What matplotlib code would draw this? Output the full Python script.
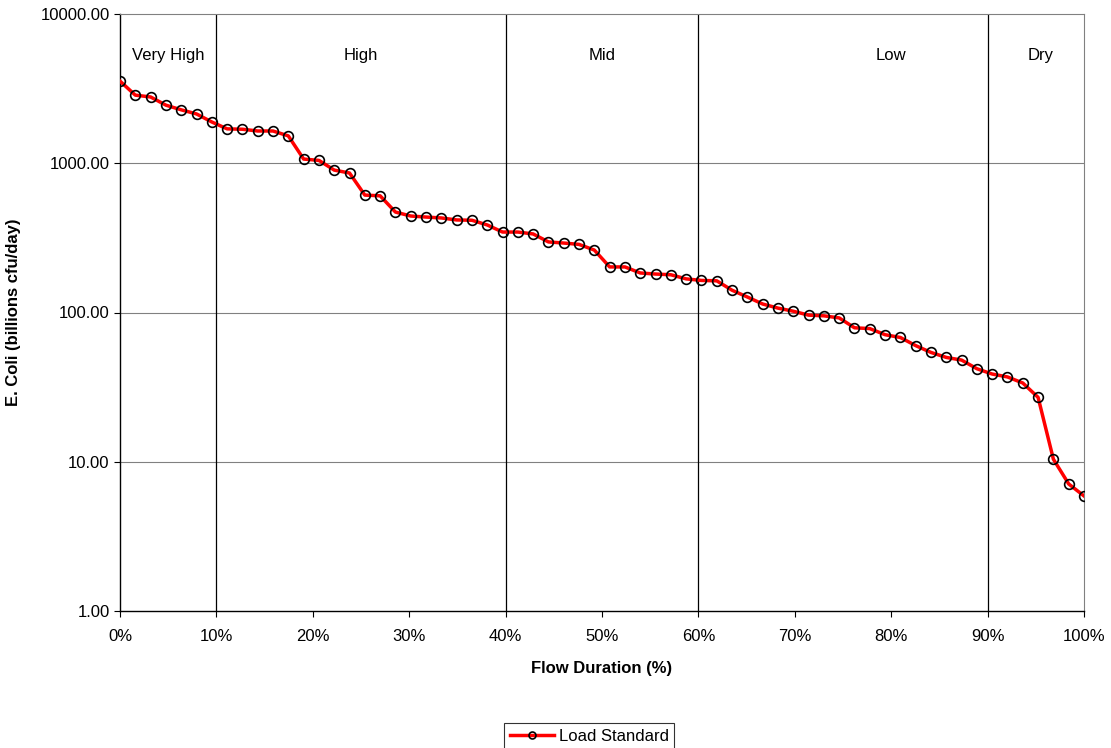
import matplotlib
matplotlib.use("Agg")
import matplotlib.pyplot as plt
import numpy as np
from matplotlib.ticker import FixedLocator, FuncFormatter

plt.rcParams['font.family'] = ['Liberation Sans', 'DejaVu Sans']

# Load duration curve values (billions cfu/day), 64 evenly spaced points
load_values = [
    3550, 2860, 2780, 2450, 2280, 2140, 1890, 1700, 1690, 1645,
    1645, 1525, 1067, 1045, 900, 860, 612, 605, 471, 443,
    436, 430, 417, 415, 386, 346, 346, 336, 297, 292,
    286, 262, 202, 202, 184, 181, 179, 168, 164, 163,
    141, 127, 114, 107, 102, 96, 95, 92, 79, 78,
    71, 68, 60, 54, 50, 48, 42, 38.7, 37, 33.7,
    27, 10.4, 7.1, 5.9,
]
flow_pct = np.linspace(0, 100, len(load_values))

zone_edges = [10, 40, 60, 90]
zone_names = ["Very High", "High", "Mid", "Low", "Dry"]
zone_centers = [5, 25, 50, 80, 95.5]

fig = plt.figure(figsize=(11.11, 7.48), dpi=100)
ax = fig.add_axes([120 / 1111, 1 - 611 / 748, (1084 - 120) / 1111, (611 - 14) / 748])

ax.set_yscale('log')
ax.set_ylim(1, 10000)
ax.set_xlim(0, 100)

# decade gridlines
for v in [10, 100, 1000]:
    ax.axhline(v, color='#808080', lw=0.8, zorder=1)
for x in zone_edges:
    ax.axvline(x, color='black', lw=0.9, zorder=1)

ax.plot(flow_pct, load_values, color='red', lw=2.5, marker='o', ms=7,
        mfc='none', mec='black', mew=1.2, label='Load Standard', zorder=3)

for name, xc in zip(zone_names, zone_centers):
    ax.text(xc, 10 ** 3.72, name, ha='center', va='center', fontsize=12)

ax.yaxis.set_major_locator(FixedLocator([1, 10, 100, 1000, 10000]))
ax.yaxis.set_minor_locator(FixedLocator([]))
ax.yaxis.set_major_formatter(FuncFormatter(lambda v, p: f"{v:.2f}"))
ax.set_xticks(np.arange(0, 101, 10))
ax.xaxis.set_major_formatter(FuncFormatter(lambda v, p: f"{int(v)}%"))
ax.tick_params(axis='both', direction='out', length=4, labelsize=12, color='black')
ax.tick_params(axis='x', pad=9)

ax.spines['top'].set_color('#808080')
ax.spines['right'].set_color('#808080')
for s in ['left', 'bottom']:
    ax.spines[s].set_linewidth(1.0)

ax.set_xlabel('Flow Duration (%)', fontsize=12, fontweight='bold', labelpad=12)
ax.set_ylabel('E. Coli (billions cfu/day)', fontsize=12, fontweight='bold', labelpad=14)

handle = plt.Line2D([], [], color='red', lw=2.5, marker='o', ms=5,
                    mfc='none', mec='black', mew=1.2)
leg = fig.legend([handle], ['Load Standard'], loc='upper center',
                 bbox_to_anchor=(589.5 / 1111, 1 - 723 / 748), fontsize=12,
                 frameon=True, fancybox=False, edgecolor='black', handlelength=2.6,
                 borderpad=0.35, borderaxespad=0, handletextpad=0.3)
leg.get_frame().set_linewidth(0.8)

fig.savefig('out.png', dpi=100)
